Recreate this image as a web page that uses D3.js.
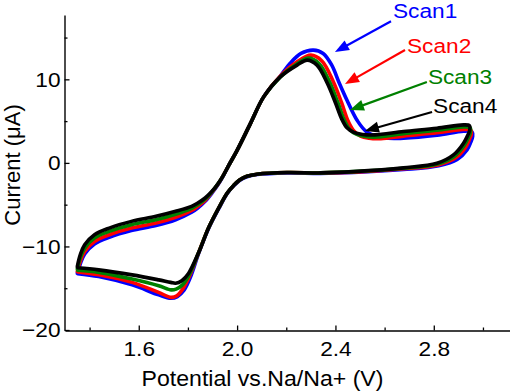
<!DOCTYPE html>
<html>
<head>
<meta charset="utf-8">
<script src="https://cdn.jsdelivr.net/npm/d3@7"></script>
<style>
  html, body { margin: 0; padding: 0; background: #fff; }
  svg { display: block; }
  text { font-family: "Liberation Sans", Arial, sans-serif; }
</style>
</head>
<body>
<svg id="chart" width="510" height="391"></svg>
<script>
// ---- Data (potential in V vs Na/Na+, current in µA) ----
const scan1V = [1.350, 1.362, 1.380, 1.420, 1.480, 1.570, 1.670, 1.750, 1.815, 1.840, 1.870, 1.898, 1.920, 1.940, 1.966, 2.000, 2.054, 2.108, 2.176, 2.215, 2.260, 2.310, 2.350, 2.385, 2.415, 2.447, 2.488, 2.528, 2.596, 2.677, 2.813, 2.921, 2.956, 2.958, 2.950, 2.935, 2.895, 2.820, 2.677, 2.474, 2.339, 2.203, 2.081, 2.040, 2.010, 1.986, 1.960, 1.925, 1.885, 1.844, 1.810, 1.785, 1.757, 1.730, 1.681, 1.573, 1.437, 1.352];
const scan1I = [-13.2, -12.1, -10.9, -9.7, -8.9, -8.1, -7.5, -6.8, -5.9, -5.4, -4.6, -3.6, -2.7, -1.75, -0.3, 1.5, 4.7, 7.9, 10.4, 11.9, 13.1, 13.5, 13.1, 11.7, 9.6, 7.5, 5.1, 3.7, 3.0, 2.95, 3.3, 3.8, 3.7, 3.15, 2.45, 1.55, 0.4, -0.35, -0.8, -1.15, -1.25, -1.2, -1.4, -1.65, -2.1, -2.75, -3.65, -5.5, -7.8, -10.8, -13.7, -15.2, -16.0, -16.2, -15.8, -14.6, -13.6, -13.25];

const scan2V = [1.350, 1.362, 1.380, 1.420, 1.480, 1.570, 1.670, 1.750, 1.815, 1.840, 1.870, 1.898, 1.920, 1.940, 1.966, 2.000, 2.054, 2.108, 2.176, 2.244, 2.300, 2.345, 2.390, 2.425, 2.450, 2.473, 2.502, 2.537, 2.585, 2.677, 2.813, 2.921, 2.951, 2.952, 2.944, 2.929, 2.889, 2.818, 2.677, 2.474, 2.339, 2.203, 2.081, 2.040, 2.010, 1.986, 1.960, 1.925, 1.885, 1.844, 1.807, 1.781, 1.755, 1.732, 1.681, 1.573, 1.437, 1.352];
const scan2I = [-13.0, -11.8, -10.6, -9.4, -8.6, -7.8, -7.2, -6.5, -5.7, -5.2, -4.5, -3.5, -2.65, -1.7, -0.3, 1.5, 4.7, 7.9, 10.4, 12.1, 12.9, 12.2, 9.8, 7.2, 5.1, 3.9, 3.2, 2.95, 2.9, 3.2, 3.6, 4.0, 3.9, 3.35, 2.75, 1.85, 0.6, -0.25, -0.7, -1.1, -1.2, -1.15, -1.35, -1.6, -2.05, -2.7, -3.6, -5.4, -7.7, -10.7, -13.5, -15.0, -15.9, -16.1, -15.5, -14.3, -13.4, -13.05];

const scan3V = [1.350, 1.362, 1.380, 1.420, 1.480, 1.570, 1.670, 1.750, 1.815, 1.840, 1.870, 1.898, 1.920, 1.940, 1.966, 2.000, 2.054, 2.108, 2.176, 2.244, 2.290, 2.333, 2.376, 2.410, 2.435, 2.458, 2.487, 2.522, 2.570, 2.677, 2.813, 2.921, 2.948, 2.949, 2.941, 2.925, 2.884, 2.815, 2.677, 2.474, 2.339, 2.203, 2.081, 2.040, 2.010, 1.986, 1.960, 1.925, 1.885, 1.844, 1.805, 1.778, 1.752, 1.732, 1.681, 1.573, 1.437, 1.352];
const scan3I = [-12.7, -11.4, -10.2, -9.0, -8.2, -7.4, -6.8, -6.15, -5.45, -5.0, -4.35, -3.45, -2.6, -1.7, -0.3, 1.5, 4.7, 7.9, 10.3, 11.85, 12.55, 11.9, 9.7, 7.2, 5.2, 4.0, 3.4, 3.15, 3.1, 3.5, 3.9, 4.3, 4.2, 3.65, 3.05, 2.15, 0.8, -0.15, -0.65, -1.05, -1.2, -1.15, -1.35, -1.6, -2.05, -2.7, -3.6, -5.4, -7.7, -10.7, -13.4, -14.6, -15.1, -15.2, -14.7, -13.9, -13.1, -12.85];

const scan4V = [1.350, 1.362, 1.380, 1.420, 1.480, 1.570, 1.670, 1.750, 1.815, 1.840, 1.870, 1.898, 1.920, 1.940, 1.966, 2.000, 2.054, 2.108, 2.176, 2.244, 2.285, 2.325, 2.366, 2.400, 2.425, 2.447, 2.475, 2.510, 2.560, 2.677, 2.813, 2.921, 2.945, 2.946, 2.938, 2.921, 2.880, 2.813, 2.677, 2.474, 2.339, 2.203, 2.081, 2.040, 2.010, 1.986, 1.960, 1.925, 1.885, 1.844, 1.803, 1.775, 1.750, 1.730, 1.681, 1.573, 1.437, 1.352];
const scan4I = [-12.4, -11.0, -9.8, -8.6, -7.8, -7.0, -6.4, -5.8, -5.2, -4.8, -4.2, -3.4, -2.6, -1.7, -0.3, 1.5, 4.7, 7.9, 10.3, 11.7, 12.3, 11.7, 9.6, 7.2, 5.3, 4.2, 3.65, 3.4, 3.35, 3.75, 4.15, 4.55, 4.45, 3.9, 3.3, 2.35, 0.95, -0.05, -0.6, -1.05, -1.2, -1.15, -1.35, -1.6, -2.05, -2.7, -3.6, -5.4, -7.7, -10.7, -13.2, -14.1, -14.4, -14.3, -14.0, -13.4, -12.8, -12.55];

const scanNames  = ["Scan1", "Scan2", "Scan3", "Scan4"];
const scanColors = ["#0000ff", "#ff0000", "#008000", "#000000"];

// label anchor (text start) and arrow start/tip, in data units
const labelV = [2.634, 2.691, 2.776, 2.797];
const labelI = [17.35, 13.20, 9.50, 5.95];
const arrowFromV = [2.626, 2.683, 2.772, 2.793];
const arrowFromI = [16.95, 13.51, 9.68, 6.09];
const arrowToV = [2.398, 2.439, 2.459, 2.520];
const arrowToI = [13.27, 9.44, 6.33, 3.82];

const xMajorTicks = [1.6, 2.0, 2.4, 2.8];
const xMinorTicks = [1.4, 1.8, 2.2, 2.6, 3.0];
const yMajorTicks = [-20, -10, 0, 10];
const yMinorTicks = [-15, -5, 5, 15];
const xDomain = [1.3, 3.11];
const yDomain = [-20, 17.7];
const xTitle = "Potential vs.Na/Na+ (V)";
const yTitle = "Current (\u03bcA)";

// ---- Drawing ----
const svg = d3.select("#chart");
const axLeft = 64.5, axBottom = 330.5;
const stretch = 1.08;

const x = d3.scaleLinear().domain(xDomain).range([65, 510]);
const y = d3.scaleLinear().domain(yDomain).range([330, 15]);

const scans = [
  {V: scan1V, I: scan1I},
  {V: scan2V, I: scan2I},
  {V: scan3V, I: scan3I},
  {V: scan4V, I: scan4I}
];

const line = d3.line()
  .x(d => x(d[0]))
  .y(d => y(d[1]))
  .curve(d3.curveCatmullRom.alpha(0.5));

scans.forEach((s, i) => {
  const pts = s.V.map((v, k) => [v, s.I[k]]);
  svg.append("path")
    .attr("d", line(pts))
    .attr("fill", "none")
    .attr("stroke", scanColors[i])
    .attr("stroke-width", 3.6)
    .attr("stroke-linejoin", "round")
    .attr("stroke-linecap", "round");
});

// axes
const xAxisG = svg.append("g").attr("transform", `translate(0,${axBottom})`);
xAxisG.call(d3.axisBottom(x).tickValues(xMajorTicks).tickSizeInner(-5).tickSizeOuter(0).tickPadding(11).tickFormat(d3.format(".1f")));
const xMinorG = svg.append("g").attr("transform", `translate(0,${axBottom})`);
xMinorG.call(d3.axisBottom(x).tickValues(xMinorTicks).tickSizeInner(-3).tickSizeOuter(0).tickFormat(""));
xMinorG.select(".domain").remove();

const yAxisG = svg.append("g").attr("transform", `translate(${axLeft},0)`);
yAxisG.call(d3.axisLeft(y).tickValues(yMajorTicks).tickSizeInner(-5).tickSizeOuter(0).tickPadding(4).tickFormat(d3.format("d")));
const yMinorG = svg.append("g").attr("transform", `translate(${axLeft},0)`);
yMinorG.call(d3.axisLeft(y).tickValues(yMinorTicks).tickSizeInner(-3).tickSizeOuter(0).tickFormat(""));
yMinorG.select(".domain").remove();

svg.selectAll(".domain").attr("stroke", "#000").attr("stroke-width", 1.4);
svg.selectAll(".tick line").attr("stroke", "#000").attr("stroke-width", 1.3);
svg.selectAll(".tick text")
  .attr("font-family", "'Liberation Sans', Arial, sans-serif")
  .attr("font-size", 21)
  .attr("fill", "#000");

xAxisG.selectAll(".tick text")
  .attr("dy", "0.71em")
  .attr("transform", `scale(${stretch},1)`);
yAxisG.selectAll(".tick text")
  .attr("x", 0)
  .attr("transform", `translate(-4,0) scale(${stretch},1)`);

// axis titles
svg.append("text")
  .attr("transform", `translate(262.5,386) scale(1.05,1)`)
  .attr("text-anchor", "middle")
  .attr("font-size", 22)
  .attr("fill", "#000")
  .text(xTitle);

svg.append("text")
  .attr("transform", "translate(20,165) rotate(-90)")
  .attr("text-anchor", "middle")
  .attr("font-size", 22)
  .attr("fill", "#000")
  .text(yTitle);

// annotations with arrows
scanNames.forEach((name, i) => {
  const x0 = x(arrowFromV[i]), y0 = y(arrowFromI[i]);
  const x1 = x(arrowToV[i]), y1 = y(arrowToI[i]);
  const ang = Math.atan2(y1 - y0, x1 - x0);
  const L = 14, W = 5.5;
  const bx = x1 - L * Math.cos(ang), by = y1 - L * Math.sin(ang);
  svg.append("line")
    .attr("x1", x0).attr("y1", y0).attr("x2", bx + 2 * Math.cos(ang)).attr("y2", by + 2 * Math.sin(ang))
    .attr("stroke", scanColors[i]).attr("stroke-width", 2.2);
  const px = -Math.sin(ang), py = Math.cos(ang);
  svg.append("polygon")
    .attr("points", [[x1, y1], [bx + W * px, by + W * py], [bx - W * px, by - W * py]].map(p => p.join(",")).join(" "))
    .attr("fill", scanColors[i]);
  svg.append("text")
    .attr("transform", `translate(${x(labelV[i])},${y(labelI[i])}) scale(${stretch},1)`)
    .attr("font-size", 21)
    .attr("fill", scanColors[i])
    .text(name);
});
</script>
</body>
</html>
